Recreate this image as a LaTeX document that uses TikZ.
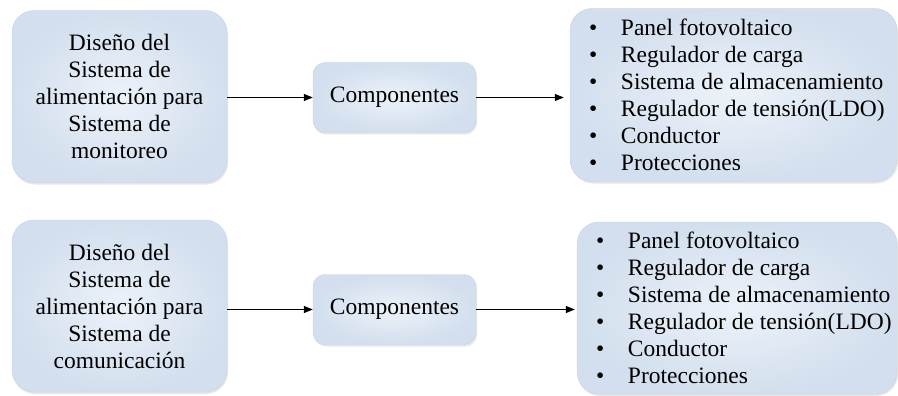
\documentclass[tikz,border=0pt]{standalone}
\usepackage{fontspec}
\setmainfont{Liberation Serif}
\newfontfamily\timesfont{Liberation Serif}
\usetikzlibrary{arrows.meta,shadows,positioning}

\definecolor{boxlight}{RGB}{236,242,249}
\definecolor{boxdark}{RGB}{211,223,238}
\definecolor{boxline}{RGB}{200,212,229}

\newcommand{\bul}{\makebox[32pt][l]{\textbullet}}

\tikzset{
  box/.style={rounded corners=#1, draw=boxline, inner color=boxlight, outer color=boxdark,
    drop shadow={opacity=0.2,shadow xshift=1pt,shadow yshift=-2pt}},
}

\begin{document}
\begin{tikzpicture}[x=1pt,y=-1pt,
  font=\timesfont\fontsize{23.5}{27}\selectfont,
  mainbox/.style={box=22pt, minimum width=215pt, minimum height=172pt, align=center, inner sep=0pt},
  compbox/.style={box=12pt, minimum width=163pt, minimum height=70pt, inner sep=0pt},
  listbox/.style={box=22pt, minimum height=173pt, inner sep=0pt},
  listtext/.style={anchor=west, align=left, inner sep=0pt},
  flow/.style={-{Triangle[length=9pt,width=7pt]}, line width=1.1pt}]
\useasboundingbox (0,0) rectangle (898,396);
% monitoreo
\node[mainbox] (mon) at (119.5,96.5) {Diseño del\\Sistema de\\alimentación para\\Sistema de\\monitoreo};
\node[compbox] (compmon) at (394.5,97.5) {Componentes};
\node[listbox, minimum width=327pt] (listmon) at (733.5,95) {};
\node[listtext] (itemsmon) at ([xshift=19pt]listmon.west) {\bul Panel fotovoltaico\\\bul Regulador de carga\\\bul Sistema de almacenamiento\\\bul Regulador de tensión(LDO)\\\bul Conductor\\\bul Protecciones};
\draw[flow] (mon.east |- compmon.west) -- (compmon.west);
\draw[flow, shorten >=6pt] (compmon.east) -- (compmon.east -| listmon.west);
% comunicacion
\node[mainbox] (com) at (119.5,306) {Diseño del\\Sistema de\\alimentación para\\Sistema de\\comunicación};
\node[compbox] (compcom) at (394.5,309.5) {Componentes};
\node[listbox, minimum width=320pt, minimum height=172pt] (listcom) at (737,308) {};
\node[listtext] (itemscom) at ([xshift=19pt]listcom.west) {\bul Panel fotovoltaico\\\bul Regulador de carga\\\bul Sistema de almacenamiento\\\bul Regulador de tensión(LDO)\\\bul Conductor\\\bul Protecciones};
\draw[flow] (com.east |- compcom.west) -- (compcom.west);
\draw[flow, shorten >=2pt] (compcom.east) -- (compcom.east -| listcom.west);
\end{tikzpicture}
\end{document}
